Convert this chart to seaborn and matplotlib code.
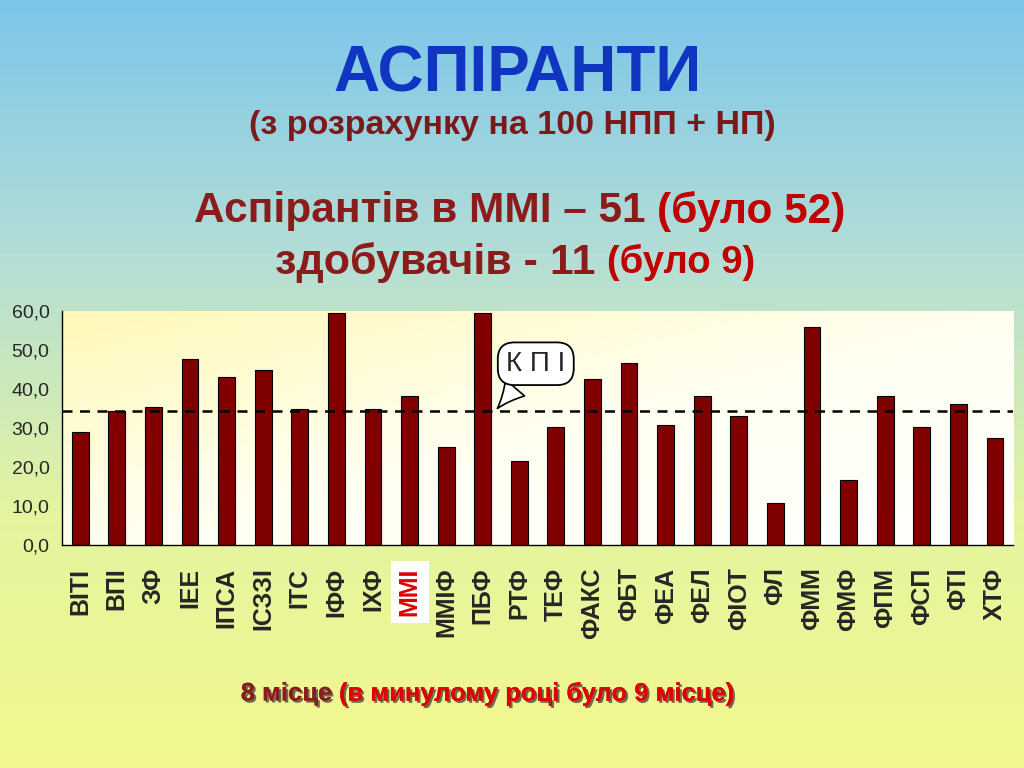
import numpy as np
import pandas as pd
import matplotlib
matplotlib.use('Agg')
import matplotlib.pyplot as plt
import matplotlib.patheffects as pe
from matplotlib.colors import LinearSegmentedColormap
import seaborn as sns

faculties = ['ВІТІ', 'ВПІ', 'ЗФ', 'ІЕЕ', 'ІПСА', 'ІСЗЗІ', 'ІТС', 'ІФФ', 'ІХФ', 'ММІ',
             'ММІФ', 'ПБФ', 'РТФ', 'ТЕФ', 'ФАКС', 'ФБТ', 'ФЕА', 'ФЕЛ', 'ФІОТ', 'ФЛ',
             'ФММ', 'ФМФ', 'ФПМ', 'ФСП', 'ФТІ', 'ХТФ']
per_100 = [29.1, 34.5, 35.3, 47.7, 43.0, 44.8, 34.8, 59.5, 34.8, 38.2,
           25.3, 59.5, 21.7, 30.2, 42.5, 46.7, 30.7, 38.2, 33.0, 10.9,
           55.9, 16.8, 38.2, 30.4, 36.3, 27.6]
kpi_avg = 34.5
highlight = 'ММІ'
yticks = [0, 10, 20, 30, 40, 50, 60]

data = pd.DataFrame({'faculty': faculties, 'value': per_100})

sns.set_style('white')
plt.rcParams['font.family'] = ['Liberation Sans', 'DejaVu Sans']

fig = plt.figure(figsize=(10.24, 7.68), dpi=100)

# slide background gradient
bg = fig.add_axes([0, 0, 1, 1], zorder=-10)
bg_cmap = LinearSegmentedColormap.from_list('bg', ['#7CC6EA', '#B4DED6', '#E4F4A0', '#F2F88E'])
bg.imshow(np.linspace(0, 1, 256).reshape(-1, 1), aspect='auto', cmap=bg_cmap, extent=[0, 1, 0, 1])
bg.axis('off')

ax = fig.add_axes([0.0605, 0.290, 0.929, 0.305])
plot_cmap = LinearSegmentedColormap.from_list('pl', ['#FFF8B8', '#FFFFF0', '#FFFFFF'])
grad = np.add.outer(np.linspace(0, 1, 100), np.linspace(0, 1, 100)) / 2
ax.imshow(grad, aspect='auto', cmap=plot_cmap, extent=[0, 1, 0, 1],
          transform=ax.transAxes, zorder=0)

sns.barplot(data=data, x='faculty', y='value', color='#800000', edgecolor='black',
            linewidth=0.8, width=0.46, saturation=1, ax=ax, zorder=2)

ax.axhline(kpi_avg, color='black', linestyle=(0, (4, 3)), linewidth=1.8, zorder=3)

ax.set_xlim(-0.5, len(faculties) - 0.5)
ax.set_ylim(0, 60)
ax.set_yticks(yticks)
ax.set_yticklabels([f'{v:.1f}'.replace('.', ',') for v in yticks], fontsize=14)
ax.set_xlabel('')
ax.set_ylabel('')
ax.set_xticks(np.arange(-0.5, len(faculties)), minor=True)
ax.tick_params(axis='x', which='minor', length=7, width=1, color='black', direction='out')
ax.tick_params(axis='x', which='major', length=0, pad=16)
ax.tick_params(axis='y', length=6, width=1, color='black', direction='out', pad=3)
ax.set_xticklabels(faculties, rotation=90, fontsize=18, fontweight='bold')
for lab in ax.get_xticklabels():
    if lab.get_text() == highlight:
        lab.set_color('#E00000')
        lab.set_bbox(dict(facecolor='white', edgecolor='none', pad=5))
for s in ['top', 'right']:
    ax.spines[s].set_visible(False)
for s in ['left', 'bottom']:
    ax.spines[s].set_color('black')
    ax.spines[s].set_linewidth(1)

# speech bubble "К П І"
ax.annotate('К П І', xy=(11.35, kpi_avg), xytext=(12.45, 46.5),
            fontsize=20, ha='center', va='center',
            family=['Liberation Sans Narrow', 'Liberation Sans', 'DejaVu Sans'],
            bbox=dict(boxstyle='round,pad=0.3,rounding_size=0.6', fc='white', ec='black', lw=1.3),
            arrowprops=dict(arrowstyle='wedge,tail_width=0.9,shrink_factor=0.4', fc='white',
                            ec='black', lw=1.2),
            zorder=5)

# titles
fig.text(0.505, 0.903, 'АСПІРАНТИ', ha='center', va='center', fontsize=46,
         fontweight='bold', color='#1035C0')
fig.text(0.5, 0.836, '(з розрахунку на 100 НПП + НП)', ha='center', va='center',
         fontsize=24.5, fontweight='bold', color='#7A1A1A')
fig.text(0.642, 0.725, 'Аспірантів в ММІ – 51 ', ha='right', va='center',
         fontsize=30.5, fontweight='bold', color='#8A1C1C')
fig.text(0.642, 0.725, '(було 52)', ha='left', va='center',
         fontsize=30.5, fontweight='bold', color='#C00000')
fig.text(0.593, 0.658, 'здобувачів - 11 ', ha='right', va='center',
         fontsize=31, fontweight='bold', color='#8A1C1C')
fig.text(0.593, 0.658, '(було 9)', ha='left', va='center',
         fontsize=27.5, fontweight='bold', color='#C00000')

shadow = [pe.withSimplePatchShadow(offset=(1.5, -1.5), shadow_rgbFace='#333333', alpha=0.7), pe.Normal()]
fig.text(0.331, 0.097, '8 місце ', ha='right', va='center', fontsize=18.4,
         fontweight='bold', color='#8A1C1C', path_effects=shadow)
fig.text(0.331, 0.097, '(в минулому році було 9 місце)', ha='left', va='center',
         fontsize=18.4, fontweight='bold', color='#E00000', path_effects=shadow)

fig.savefig('out.png', dpi=100)
